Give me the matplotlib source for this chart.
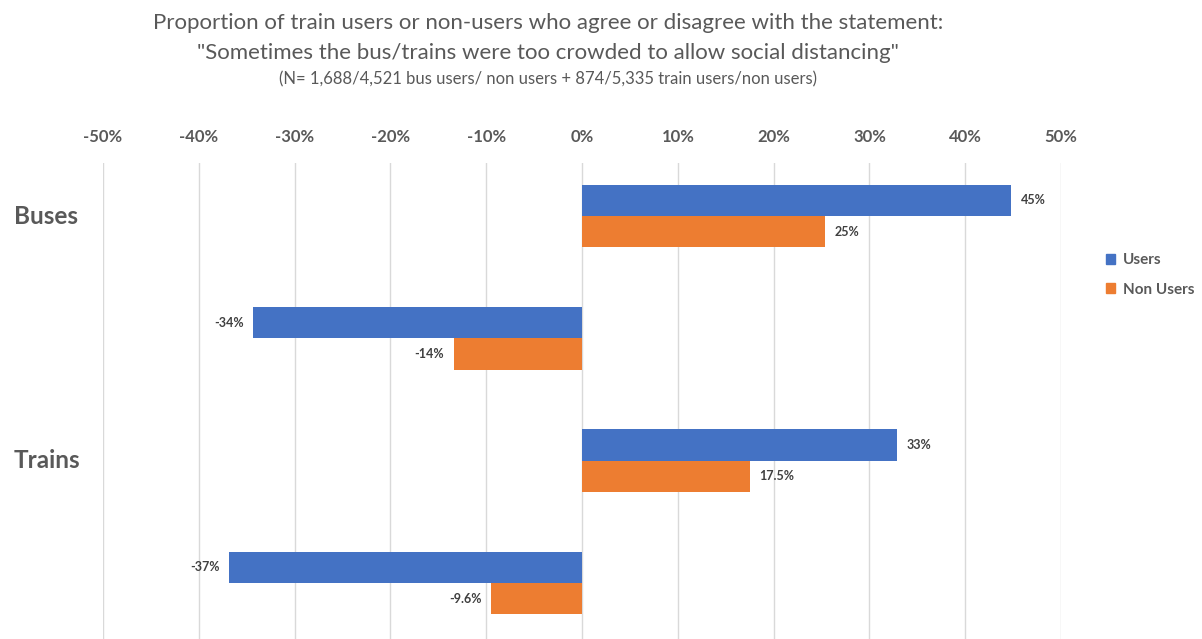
import matplotlib
matplotlib.use("Agg")
import matplotlib.pyplot as plt
from matplotlib.patches import Patch
from matplotlib.ticker import FuncFormatter

# ---- data ----
categories = ["Buses", "Trains"]
row_labels = ["Buses agree", "Buses disagree", "Trains agree", "Trains disagree"]
users_values = [0.448, -0.343, 0.329, -0.368]
nonusers_values = [0.254, -0.134, 0.175, -0.095]
users_text = ["45%", "-34%", "33%", "-37%"]
nonusers_text = ["25%", "-14%", "17.5%", "-9.6%"]
series_names = ["Users", "Non Users"]
xticks = [-0.5, -0.4, -0.3, -0.2, -0.1, 0.0, 0.1, 0.2, 0.3, 0.4, 0.5]

title_lines = [
    "Proportion of train users or non-users who agree or disagree with the statement:",
    "\"Sometimes the bus/trains were too crowded to allow social distancing\"",
]
subtitle = "(N= 1,688/4,521 bus users/ non users + 874/5,335 train users/non users)"

BLUE = "#4472C4"
ORANGE = "#ED7D31"
GRAY = "#595959"
DARK = "#404040"
FONT = "Lato"

W, H = 1202, 639
fig = plt.figure(figsize=(W / 100, H / 100), dpi=100)
ax = fig.add_axes([103 / W, 0.0, 958 / W, (H - 163) / H])

pos = list(range(len(row_labels)))
bh = 0.255
off = bh / 2
ax.barh([p - off for p in pos], users_values, height=bh, color=BLUE, zorder=3)
ax.barh([p + off for p in pos], nonusers_values, height=bh, color=ORANGE, zorder=3)

for p, v, t in zip(pos, users_values, users_text):
    ax.annotate(t, (v, p - off), xytext=(7 if v > 0 else -7, 0), textcoords="offset points",
                ha="left" if v > 0 else "right", va="center", fontsize=9,
                fontweight="bold", color=DARK, family=FONT)
for p, v, t in zip(pos, nonusers_values, nonusers_text):
    ax.annotate(t, (v, p + off), xytext=(7 if v > 0 else -7, 0), textcoords="offset points",
                ha="left" if v > 0 else "right", va="center", fontsize=9,
                fontweight="bold", color=DARK, family=FONT)

ax.set_xlim(-0.5, 0.5)
ax.set_ylim(3 + (H - 583) / 122.33, -(216 - 163) / 122.33)
ax.set_xticks(xticks)
ax.xaxis.set_major_formatter(FuncFormatter(lambda x, _: f"{x*100:.0f}%"))
ax.xaxis.tick_top()
ax.tick_params(axis="x", length=0, pad=13, labelsize=12, labelcolor=GRAY)
for lab in ax.get_xticklabels():
    lab.set_fontweight("bold")
    lab.set_family(FONT)
ax.set_yticks([])
ax.grid(axis="x", color="#D9D9D9", linewidth=1, zorder=0)
for s in ax.spines.values():
    s.set_visible(False)

# category labels
for i, c in enumerate(categories):
    yp = 2 * i
    ax.text(-0.5 - 89 / 958, yp, c, transform=ax.transData, ha="left", va="center",
            fontsize=17.5, fontweight="bold", color=GRAY, family=FONT)

# titles
cx = 548 / W
fig.text(cx, 1 - 23 / H, title_lines[0], ha="center", va="center", fontsize=16,
         color=GRAY, family=FONT)
fig.text(cx, 1 - 53 / H, title_lines[1], ha="center", va="center", fontsize=16,
         color=GRAY, family=FONT)
fig.text(cx, 1 - 79 / H, subtitle, ha="center", va="center", fontsize=12,
         color=GRAY, family=FONT)

handles = [Patch(color=BLUE), Patch(color=ORANGE)]
leg = fig.legend(handles, series_names, loc="center left",
                 bbox_to_anchor=(1092 / W, 1 - 275 / H), frameon=False,
                 handlelength=0.6, handleheight=0.6, handletextpad=0.5,
                 labelspacing=1.0, prop={"family": FONT, "weight": "bold", "size": 11})
for t in leg.get_texts():
    t.set_color(GRAY)

fig.savefig("out.png", dpi=100)
